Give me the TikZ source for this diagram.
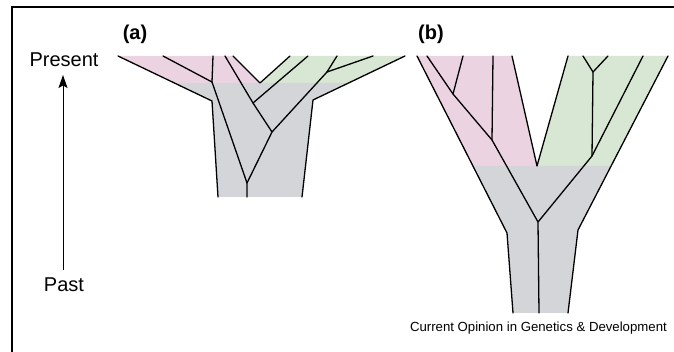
\documentclass[tikz,border=0pt]{standalone}
\usepackage{fontspec}
\setmainfont{Liberation Sans}
\usetikzlibrary{arrows.meta}
\definecolor{pinkc}{RGB}{236,211,226}
\definecolor{greenc}{RGB}{216,231,211}
\definecolor{grayc}{RGB}{212,213,217}
\begin{document}
\begin{tikzpicture}[x=1pt,y=-1pt,
  lineage/.style={line width=1.3pt, line join=round, line cap=round, black},
  bigtext/.style={font=\fontsize{20}{24}\selectfont, inner sep=0pt, anchor=base},
  paneltext/.style={font=\bfseries\fontsize{20}{24}\selectfont, inner sep=0pt, anchor=base},
  pinkfill/.style={fill=pinkc},
  greenfill/.style={fill=greenc},
  grayfill/.style={fill=grayc}]
\useasboundingbox (0,0) rectangle (674,352);
\fill[white] (0,0) rectangle (674,352);
% frame
\draw[line width=2pt] (12,352) -- (12,7) -- (674,7);

% ---------- tree (a) ----------
\fill[pinkfill] (118,56) -- (233,56) -- (260,83) -- (174.4,83) -- cycle;
\fill[greenfill] (290,56) -- (405,56) -- (348.5,83) -- (260,83) -- cycle;
\fill[grayfill] (174.4,83) -- (348.5,83) -- (313,100) -- (302,197) -- (218,197) -- (212,101) -- cycle;
% outline
\draw[lineage] (118,56) -- (212,101) -- (218,197);
\draw[lineage] (405,56) -- (313,100) -- (302,197);
\draw[lineage] (233,56) -- (260,83) -- (290,56);
% gene tree
\coordinate (a1) at (212,82);
\coordinate (a2) at (253,103);
\coordinate (a3) at (272,132);
\coordinate (a4) at (327,72);
\coordinate (aroot) at (247,183);
\draw[lineage] (163,56) -- (a1);
\draw[lineage] (213,56) -- (a1);
\draw[lineage] (a1) -- (aroot) -- (247,197);
\draw[lineage] (225,56) -- (a2) -- (a3) -- (aroot);
\draw[lineage] (308,56) -- (a2);
\draw[lineage] (a3) -- (a4);
\draw[lineage] (a4) -- (337,56);
\draw[lineage] (a4) -- (373,56);

% ---------- tree (b) ----------
\fill[pinkfill] (417,56) -- (512,56) -- (537,166) -- (472.9,166) -- cycle;
\fill[greenfill] (568,56) -- (668,56) -- (611.1,166) -- (537,166) -- cycle;
\fill[grayfill] (472.9,166) -- (611.1,166) -- (578,230) -- (568,313) -- (513,313) -- (507,233) -- cycle;
\draw[lineage] (417,56) -- (507,233) -- (513,313);
\draw[lineage] (668,56) -- (578,230) -- (568,313);
\draw[lineage] (512,56) -- (537,166) -- (568,56);
\coordinate (b1) at (453,94);
\coordinate (b2) at (492,140);
\coordinate (broot) at (538,222);
\coordinate (b3) at (593,72);
\coordinate (b4) at (592,156);
\draw[lineage] (427,56) -- (b1) -- (b2) -- (broot) -- (539,313);
\draw[lineage] (463,56) -- (b1);
\draw[lineage] (493,56) -- (b2);
\draw[lineage] (583,56) -- (b3);
\draw[lineage] (608,56) -- (b3);
\draw[lineage] (b3) -- (b4);
\draw[lineage] (643,56) -- (b4) -- (broot);

% ---------- labels ----------
\node[paneltext] (la) at (135,40) {(a)};
\node[paneltext] (lb) at (431,40) {(b)};
\node[bigtext] (present) at (64,67) {Present};
\node[bigtext] (past) at (64,291.5) {Past};
\coordinate (arrtail) at (63,270);
\coordinate (arrtip) at (63,75);
\draw[line width=1pt, -{Stealth[length=13pt,width=9pt,inset=2.5pt]}] (arrtail) -- (arrtip);
\node[font=\fontsize{13.2}{15}\selectfont, inner sep=0pt, anchor=base east] (credit) at (667,331) {Current Opinion in Genetics \& Development};
\end{tikzpicture}
\end{document}
